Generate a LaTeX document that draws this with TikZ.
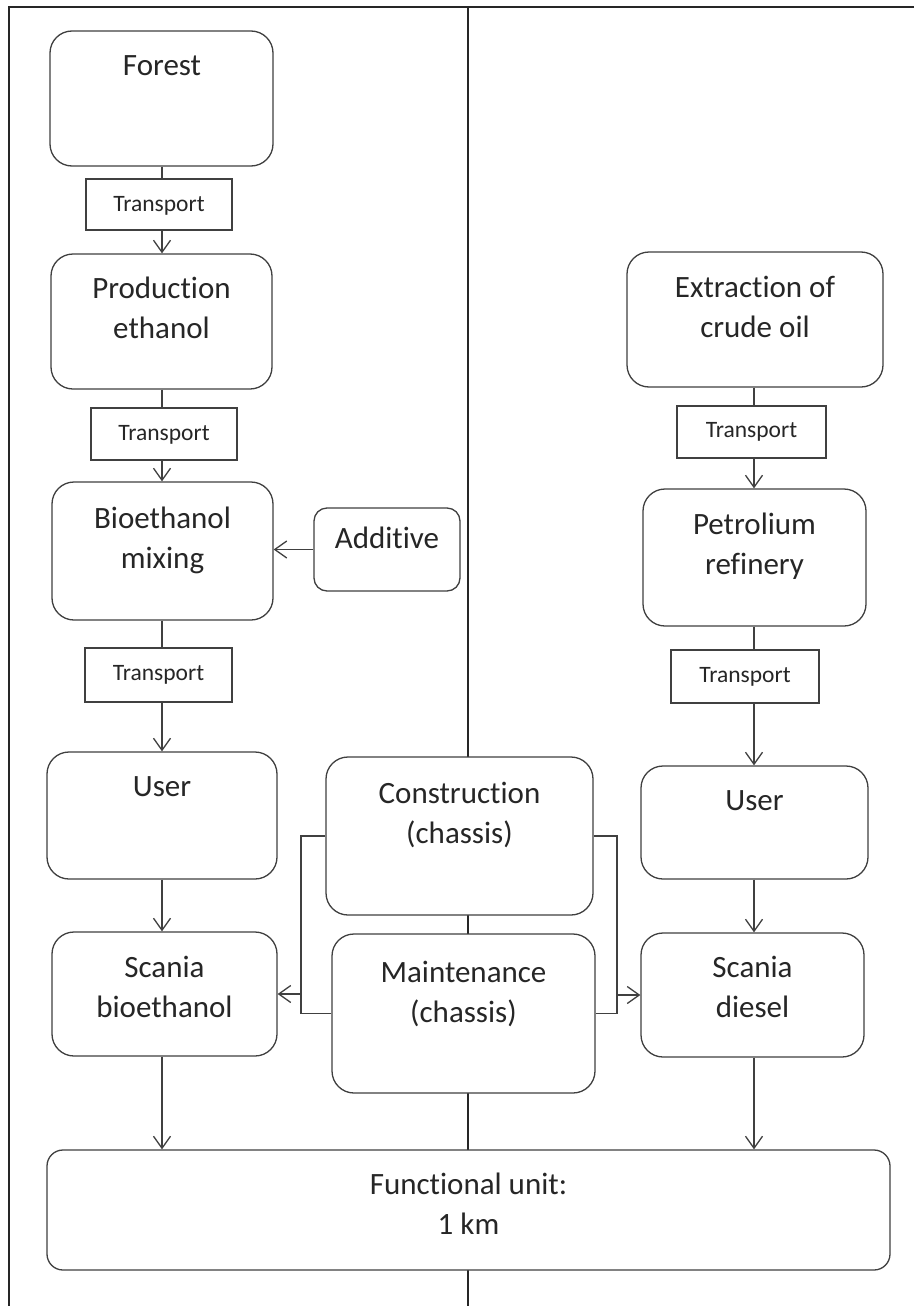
\documentclass[tikz,border=0pt]{standalone}
\usepackage{fontspec}
\setmainfont{Carlito}[Ligatures={NoCommon}]
\usetikzlibrary{arrows.meta}
\definecolor{linec}{HTML}{404040}
\definecolor{textc}{HTML}{262626}
\newcommand{\twolines}[2]{\begin{tabular}[t]{@{}c@{}}#1\\#2\end{tabular}}
\begin{document}
\begin{tikzpicture}[x=1pt,y=-1pt,
  box/.style={draw=linec, line width=1.3pt, fill=white, rounded corners=22pt, inner sep=0pt},
  tbox/.style={draw=linec, line width=1.3pt, fill=white, inner sep=0pt},
  txt/.style={font=\fontsize{31}{40}\selectfont, text=textc, anchor=base, inner sep=0pt},
  ttxt/.style={font=\fontsize{23.5}{28}\selectfont, text=textc, anchor=base, inner sep=0pt},
  conn/.style={draw=linec, line width=1.3pt},
  arr/.style={conn, -{Straight Barb[length=12pt,width=17pt,line width=1.3pt]}},
  frame/.style={draw=black!85, line width=2pt}]
\useasboundingbox (0,0) rectangle (914,1306);
\fill[white] (0,0) rectangle (914,1306);
% frame
\coordinate (ftl) at (9,7);
\coordinate (ftr) at (914,7);
\coordinate (fbl) at (9,1306);
\coordinate (ctop) at (468,7);
\coordinate (cbot) at (468,1306);
\draw[frame] (ftr) -- (ftl) -- (fbl);
\draw[frame, line width=1.5pt] (ctop) -- (cbot);
% column coordinates
\coordinate (xL) at (162,0);
\coordinate (xR) at (754,0);
% left column
\node[box, minimum width=223pt, minimum height=135pt] (forest) at (161.5,98.5) {};
\node[txt] (forest-t) at (162,75) {Forest};
\node[tbox, minimum width=146pt, minimum height=51pt] (tr1) at (159,204.5) {};
\node[ttxt] (tr1-t) at (159,211) {Transport};
\node[box, minimum width=221pt, minimum height=135pt] (prod) at (161.5,321.5) {};
\node[txt] (prod-t) at (161.5,298) {\twolines{Production}{ethanol}};
\node[tbox, minimum width=146pt, minimum height=52pt] (tr2) at (164,434) {};
\node[ttxt] (tr2-t) at (164,440) {Transport};
\node[box, minimum width=221pt, minimum height=138pt] (bio) at (162.5,551) {};
\node[txt] (bio-t) at (162.5,528) {\twolines{Bioethanol}{mixing}};
\node[box, rounded corners=13pt, minimum width=146pt, minimum height=83pt] (add) at (387,549.5) {};
\node[txt] (add-t) at (387,548) {Additive};
\node[tbox, minimum width=147pt, minimum height=54pt] (tr3) at (158.5,675) {};
\node[ttxt] (tr3-t) at (158.5,680) {Transport};
\node[box, minimum width=230pt, minimum height=127pt] (userL) at (162,815.5) {};
\node[txt] (userL-t) at (162,796) {User};
\node[box, minimum width=225pt, minimum height=124pt] (scL) at (164.5,994) {};
\node[txt] (scL-t) at (164.5,977) {\twolines{Scania}{bioethanol}};
% centre
\node[box, minimum width=267pt, minimum height=158pt] (cons) at (459.5,836) {};
\node[txt] (cons-t) at (459.5,803) {\twolines{Construction}{(chassis)}};
\node[box, minimum width=263pt, minimum height=159pt] (maint) at (463.5,1013.5) {};
\node[txt] (maint-t) at (463.5,982) {\twolines{Maintenance}{(chassis)}};
\node[box, rounded corners=16pt, minimum width=843pt, minimum height=120pt] (fu) at (468.5,1210) {};
\node[txt] (fu-t) at (468.5,1194) {\twolines{Functional unit:}{1 km}};
% right column
\node[box, minimum width=256pt, minimum height=135pt] (ext) at (755,319.5) {};
\node[txt] (ext-t) at (755,297) {\twolines{Extraction of}{crude oil}};
\node[tbox, minimum width=149pt, minimum height=52pt] (trR1) at (751.5,432) {};
\node[ttxt] (trR1-t) at (751.5,437) {Transport};
\node[box, minimum width=223pt, minimum height=137pt] (pet) at (754.5,557.5) {};
\node[txt] (pet-t) at (754.5,534) {\twolines{Petrolium}{refinery}};
\node[tbox, minimum width=148pt, minimum height=53pt] (trR2) at (745,676.5) {};
\node[ttxt] (trR2-t) at (745,682) {Transport};
\node[box, minimum width=227pt, minimum height=113pt] (userR) at (754.5,822.5) {};
\node[txt] (userR-t) at (754.5,810) {User};
\node[box, minimum width=223pt, minimum height=124pt] (scR) at (752.5,995) {};
\node[txt] (scR-t) at (752.5,977) {\twolines{Scania}{diesel}};
% connectors left
\draw[conn] (forest.south -| xL) -- (tr1.north -| xL);
\draw[arr] (tr1.south -| xL) -- (prod.north -| xL);
\draw[conn] (prod.south -| xL) -- (tr2.north -| xL);
\draw[arr] (tr2.south -| xL) -- (bio.north -| xL);
\draw[arr] (add.west) -- (add.west -| bio.east);
\draw[conn] (bio.south -| xL) -- (tr3.north -| xL);
\draw[arr] (tr3.south -| xL) -- (userL.north -| xL);
\draw[arr] (userL.south -| xL) -- (scL.north -| xL);
\draw[arr] (scL.south -| xL) -- (fu.north -| xL);
% connectors right
\draw[conn] (ext.south -| xR) -- (trR1.north -| xR);
\draw[arr] (trR1.south -| xR) -- (pet.north -| xR);
\draw[conn] (pet.south -| xR) -- (trR2.north -| xR);
\draw[arr] (trR2.south -| xR) -- (userR.north -| xR);
\draw[arr] (userR.south -| xR) -- (scR.north -| xR);
\draw[arr] (scR.south -| xR) -- (fu.north -| xR);
% chassis connectors
\coordinate (jL) at (301,994);
\coordinate (jR) at (617,995);
\draw[arr] (cons.west) -| (jL) -- (jL -| scL.east);
\draw[conn] (maint.west) -| (jL);
\draw[arr] (cons.east) -| (jR) -- (jR -| scR.west);
\draw[conn] (maint.east) -| (jR);
\end{tikzpicture}
\end{document}
